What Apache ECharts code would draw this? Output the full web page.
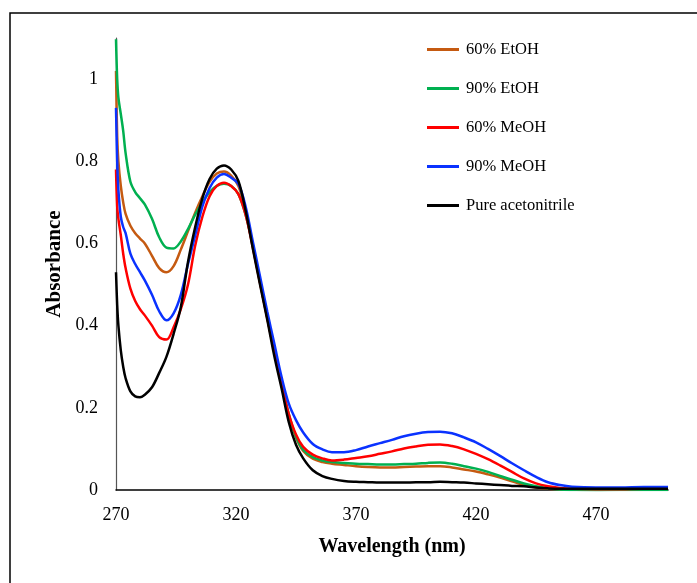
<!DOCTYPE html>
<html>
<head>
<meta charset="utf-8">
<script src="https://cdn.jsdelivr.net/npm/echarts@6/dist/echarts.min.js"></script>
<style>
html,body{margin:0;padding:0;background:#fff;}
#chart{width:697px;height:583px;}
</style>
</head>
<body>
<div id="chart"></div>
<script>
const wavelengths = [270,270.5,271,272,273,274,276,278,280,282,285,288,291,294,297,300,303,306,309,312,315,318,321,324,327,330,333,336,339,342,345,348,352,356,360,365,370,375,380,385,390,395,400,405,410,415,420,425,430,435,440,445,450,455,460,470,480,490,500];

const etoh60 = [1.02,0.86,0.80,0.74,0.70,0.672,0.643,0.625,0.612,0.60,0.57,0.54,0.53,0.545,0.585,0.63,0.675,0.715,0.75,0.77,0.775,0.765,0.74,0.68,0.595,0.505,0.42,0.335,0.255,0.18,0.128,0.095,0.076,0.068,0.064,0.061,0.058,0.056,0.055,0.055,0.056,0.057,0.058,0.058,0.055,0.050,0.045,0.038,0.030,0.021,0.012,0.006,0.003,0.002,0.001,0.001,0.001,0.001,0.001];

const etoh90 = [1.097,1.0,0.955,0.915,0.874,0.82,0.75,0.725,0.71,0.695,0.66,0.615,0.59,0.588,0.605,0.635,0.67,0.70,0.725,0.74,0.745,0.74,0.72,0.67,0.595,0.51,0.425,0.34,0.26,0.185,0.13,0.098,0.08,0.072,0.068,0.066,0.064,0.063,0.062,0.062,0.063,0.064,0.066,0.067,0.064,0.058,0.052,0.044,0.034,0.025,0.016,0.009,0.004,0.001,0.0,-0.001,0.0,0.0,0.0];

const meoh60 = [0.78,0.69,0.66,0.62,0.575,0.54,0.49,0.46,0.44,0.425,0.40,0.372,0.366,0.396,0.44,0.50,0.595,0.665,0.715,0.74,0.748,0.74,0.72,0.67,0.59,0.505,0.42,0.335,0.255,0.185,0.135,0.105,0.086,0.077,0.072,0.074,0.078,0.082,0.088,0.094,0.101,0.106,0.110,0.111,0.107,0.099,0.088,0.075,0.060,0.044,0.028,0.016,0.009,0.005,0.003,0.002,0.002,0.003,0.003];

const meoh90 = [0.93,0.80,0.73,0.665,0.64,0.625,0.575,0.55,0.53,0.51,0.475,0.435,0.413,0.43,0.475,0.55,0.62,0.69,0.735,0.76,0.769,0.76,0.745,0.69,0.605,0.52,0.435,0.355,0.275,0.21,0.17,0.14,0.112,0.099,0.092,0.092,0.097,0.106,0.114,0.122,0.131,0.137,0.141,0.142,0.138,0.128,0.116,0.100,0.083,0.065,0.048,0.032,0.019,0.012,0.008,0.006,0.006,0.007,0.007];

const acetonitrile = [0.53,0.45,0.40,0.34,0.30,0.272,0.24,0.228,0.226,0.232,0.25,0.285,0.324,0.38,0.445,0.555,0.64,0.71,0.757,0.782,0.79,0.78,0.752,0.68,0.588,0.50,0.415,0.325,0.247,0.165,0.11,0.077,0.048,0.034,0.027,0.022,0.020,0.019,0.018,0.018,0.018,0.019,0.019,0.020,0.019,0.018,0.016,0.014,0.012,0.010,0.009,0.006,0.004,0.003,0.003,0.003,0.003,0.003,0.003];

const seriesNames = ['60% EtOH','90% EtOH','60% MeOH','90% MeOH','Pure acetonitrile'];
const seriesColors = ['#C55A11','#00B050','#FF0000','#0A32FF','#000000'];
const seriesValues = [etoh60, etoh90, meoh60, meoh90, acetonitrile];

const xTicks = [270,320,370,420,470];
const yTicks = [0,0.2,0.4,0.6,0.8,1];

const chart = echarts.init(document.getElementById('chart'), null, {renderer:'canvas'});
const font = 'Liberation Serif, Times New Roman, serif';

const series = seriesNames.map((name, i) => ({
  name: name,
  type: 'line',
  smooth: 0.35,
  showSymbol: false,
  symbol: 'none',
  data: wavelengths.map((w, j) => [w, seriesValues[i][j]]),
  lineStyle: {color: seriesColors[i], width: 2.5},
  itemStyle: {color: seriesColors[i]},
  z: 2 + i
}));

chart.setOption({
  animation: false,
  backgroundColor: '#fff',
  graphic: [{
    type: 'rect',
    shape: {x: 10, y: 13, width: 720, height: 620},
    style: {fill: 'none', stroke: '#000', lineWidth: 1.5},
    silent: true
  }],
  grid: {left: 116, right: 29, top: 38, bottom: 93},
  legend: {
    orient: 'vertical',
    left: 422,
    top: 36,
    icon: 'rect',
    itemWidth: 32,
    itemHeight: 3,
    itemGap: 22,
    textStyle: {fontFamily: font, fontSize: 16.5, color: '#000', padding: [0,0,0,2], lineHeight: 17},
    data: seriesNames
  },
  xAxis: {
    type: 'value',
    min: 270,
    max: 500,
    interval: 50,
    name: 'Wavelength (nm)',
    nameLocation: 'middle',
    nameGap: 47,
    nameTextStyle: {fontFamily: font, fontSize: 20, fontWeight: 'bold', color: '#000'},
    axisLine: {show: true, onZero: false, lineStyle: {color: '#000', width: 1.5}},
    axisTick: {show: false},
    splitLine: {show: false},
    axisLabel: {
      fontFamily: font, fontSize: 18, color: '#000', margin: 16,
      showMaxLabel: false,
      formatter: v => xTicks.includes(v) ? String(v) : ''
    }
  },
  yAxis: {
    type: 'value',
    min: 0,
    max: 1.1,
    interval: 0.2,
    name: 'Absorbance',
    nameLocation: 'middle',
    nameGap: 48,
    nameTextStyle: {fontFamily: font, fontSize: 21, fontWeight: 'bold', color: '#000'},
    axisLine: {show: true, lineStyle: {color: '#555', width: 1.2}},
    axisTick: {show: false},
    splitLine: {show: false},
    axisLabel: {
      fontFamily: font, fontSize: 18, color: '#000', margin: 18,
      showMaxLabel: false,
      formatter: v => {
        const r = Math.round(v * 10) / 10;
        return yTicks.includes(r) ? String(r) : '';
      }
    }
  },
  series: series
});
</script>
</body>
</html>
